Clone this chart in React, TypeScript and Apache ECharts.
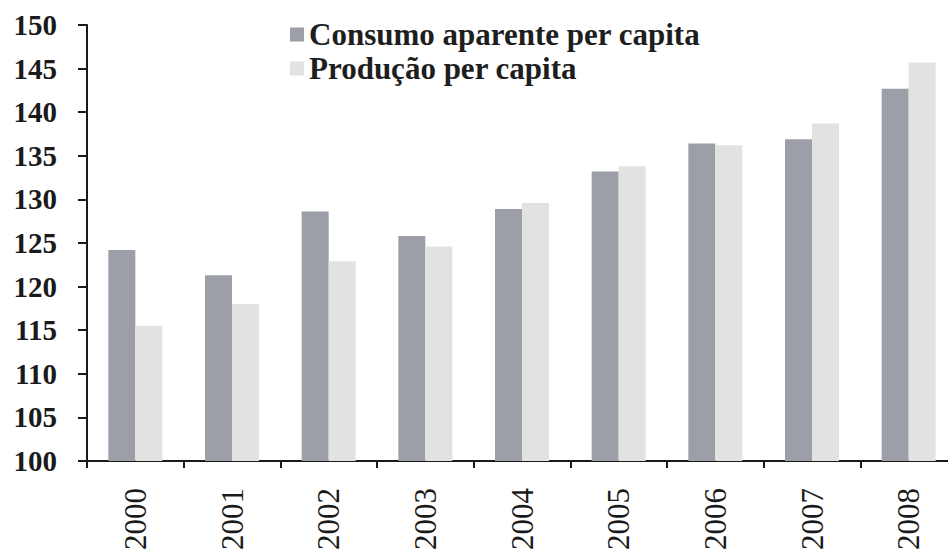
import React, { useEffect, useRef } from "react";
import * as echarts from "echarts";

const years = ["2000", "2001", "2002", "2003", "2004", "2005", "2006", "2007", "2008"];
const consumo = [124.2, 121.3, 128.6, 125.8, 128.9, 133.2, 136.4, 136.9, 142.7];
const producao = [115.5, 118.0, 122.9, 124.6, 129.6, 133.8, 136.2, 138.7, 145.7];
const seriesNames = ["Consumo aparente per capita", "Produção per capita"];

const FONT = "Liberation Serif";

export default function App() {
  const ref = useRef<HTMLDivElement>(null);
  useEffect(() => {
    if (!ref.current) return;
    const chart = echarts.init(ref.current, null, { renderer: "svg" });
    chart.setOption({
      animation: false,
      backgroundColor: "#ffffff",
      legend: {
        orient: "vertical",
        left: 290,
        top: 19,
        padding: 0,
        itemWidth: 14,
        itemHeight: 14,
        itemGap: 3,
        icon: "rect",
        textStyle: { fontFamily: FONT, fontSize: 31, fontWeight: "bold", color: "#1e1e1e", padding: [0, 0, 0, 0] },
        data: seriesNames,
      },
      grid: { left: 87, right: -9, top: 25, bottom: 95, containLabel: false, outerBoundsMode: "none" },
      xAxis: {
        type: "category",
        data: years,
        axisLine: { lineStyle: { color: "#1a1a1a", width: 2 } },
        axisTick: { show: true, alignWithLabel: false, length: 7, lineStyle: { color: "#1a1a1a", width: 2 } },
        axisLabel: { rotate: 90, margin: 27, fontFamily: FONT, fontSize: 31, color: "#1a1a1a", interval: 0 },
      },
      yAxis: {
        type: "value",
        min: 100,
        max: 150,
        interval: 5,
        splitLine: { show: false },
        axisLine: { show: true, lineStyle: { color: "#1a1a1a", width: 2 } },
        axisTick: { show: true, length: 9, lineStyle: { color: "#1a1a1a", width: 2 } },
        axisLabel: { margin: 30, fontFamily: FONT, fontSize: 29, fontWeight: "bold", color: "#1a1a1a" },
      },
      series: [
        {
          name: seriesNames[0],
          type: "bar",
          data: consumo,
          barWidth: 27,
          barGap: "0%",
          itemStyle: { color: "#9c9ea8" },
        },
        {
          name: seriesNames[1],
          type: "bar",
          data: producao,
          barWidth: 27,
          barGap: "0%",
          itemStyle: { color: "#e2e2e0" },
        },
      ],
    });
    return () => chart.dispose();
  }, []);
  return <div ref={ref} style={{ position: "fixed", left: 0, top: 0, width: 948, height: 556 }} />;
}
